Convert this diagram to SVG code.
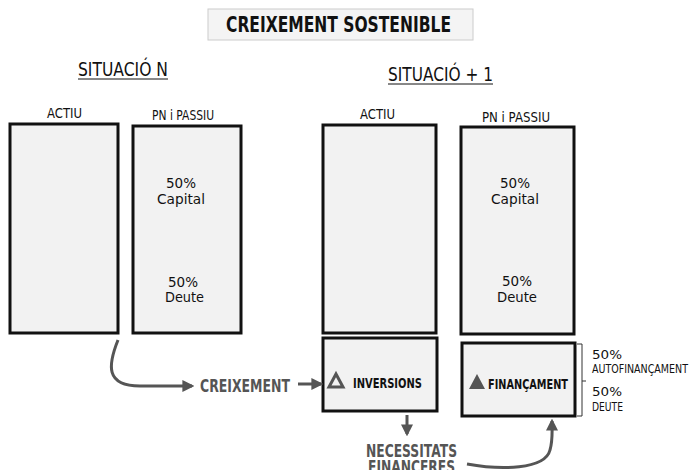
<svg xmlns="http://www.w3.org/2000/svg" width="696" height="470" viewBox="0 0 696 470">
<defs>
<style>
text{font-family:"DejaVu Sans","Liberation Sans",sans-serif}
.box{fill:#f2f2f2;stroke:#111;stroke-width:3}
.hd{font-size:19px;fill:#111}
.lbl{font-size:13.5px;fill:#111}
.pct{font-size:14.5px;fill:#111}
.bold{font-weight:bold}
.gray{fill:#555}
.conn{fill:none;stroke:#555;stroke-width:3}
.side{font-size:12.5px;fill:#111}
</style>
<marker id="ah" viewBox="0 0 10 10" refX="8" refY="5" markerWidth="4" markerHeight="4" orient="auto" markerUnits="strokeWidth">
<path d="M0,0 L10,5 L0,10 z" fill="#555"/>
</marker>
</defs>
<rect width="696" height="470" fill="#fff"/>
<g id="title">
<rect x="208" y="9" width="265" height="31" fill="#f4f4f4" stroke="#ccc" stroke-width="1"/>
<text x="226" y="32" font-size="21" font-weight="bold" fill="#111" textLength="225" lengthAdjust="spacingAndGlyphs">CREIXEMENT SOSTENIBLE</text>
</g>
<g id="sitN">
<text x="78" y="76" class="hd" textLength="90" lengthAdjust="spacingAndGlyphs">SITUACIÓ N</text>
<line x1="78" y1="79" x2="168" y2="79" stroke="#111" stroke-width="1"/>
</g>
<g id="sit1">
<text x="388" y="81" class="hd" textLength="105" lengthAdjust="spacingAndGlyphs">SITUACIÓ + 1</text>
<line x1="388" y1="84" x2="493" y2="84" stroke="#111" stroke-width="1"/>
</g>
<g id="actiuN">
<text x="47" y="118" class="lbl" textLength="35" lengthAdjust="spacingAndGlyphs">ACTIU</text>
<rect x="10" y="124" width="108" height="209" class="box"/>
</g>
<g id="passiuN">
<text x="152" y="120" class="lbl" textLength="62" lengthAdjust="spacingAndGlyphs">PN i PASSIU</text>
<rect x="133" y="126" width="108" height="207" class="box"/>
<text x="166" y="188" class="pct" textLength="30" lengthAdjust="spacingAndGlyphs">50%</text>
<text x="157" y="204" class="pct" textLength="48" lengthAdjust="spacingAndGlyphs">Capital</text>
<text x="168" y="287" class="pct" textLength="30" lengthAdjust="spacingAndGlyphs">50%</text>
<text x="165" y="302" class="pct" textLength="39" lengthAdjust="spacingAndGlyphs">Deute</text>
</g>
<g id="actiu1">
<text x="360" y="119" class="lbl" textLength="35" lengthAdjust="spacingAndGlyphs">ACTIU</text>
<rect x="323" y="125" width="113" height="208" class="box"/>
</g>
<g id="passiu1">
<text x="482" y="122" class="lbl" textLength="68" lengthAdjust="spacingAndGlyphs">PN i PASSIU</text>
<rect x="461" y="127" width="113" height="207" class="box"/>
<text x="500" y="188" class="pct" textLength="30" lengthAdjust="spacingAndGlyphs">50%</text>
<text x="491" y="204" class="pct" textLength="48" lengthAdjust="spacingAndGlyphs">Capital</text>
<text x="502" y="286" class="pct" textLength="30" lengthAdjust="spacingAndGlyphs">50%</text>
<text x="497" y="302" class="pct" textLength="40" lengthAdjust="spacingAndGlyphs">Deute</text>
</g>
<g id="inversions">
<rect x="323" y="338" width="114" height="73" class="box"/>
<polygon points="336,374 343,387 329,387" fill="none" stroke="#555" stroke-width="3"/>
<text x="353" y="388" font-size="14.5" class="bold" fill="#111" textLength="69" lengthAdjust="spacingAndGlyphs">INVERSIONS</text>
</g>
<g id="financament">
<rect x="462" y="343" width="113" height="73" class="box"/>
<polygon points="477,374 485,389 469,389" fill="#555"/>
<text x="488" y="389" font-size="14.5" class="bold" fill="#111" textLength="80" lengthAdjust="spacingAndGlyphs">FINANÇAMENT</text>
</g>
<g id="brace">
<path d="M577,344 H582 V416 H577 M582,381 H586" fill="none" stroke="#333" stroke-width="1"/>
<text x="592" y="359" class="side" textLength="30" lengthAdjust="spacingAndGlyphs">50%</text>
<text x="592" y="373" class="side" textLength="96" lengthAdjust="spacingAndGlyphs">AUTOFINANÇAMENT</text>
<text x="592" y="396" class="side" textLength="30" lengthAdjust="spacingAndGlyphs">50%</text>
<text x="592" y="411" class="side" textLength="31" lengthAdjust="spacingAndGlyphs">DEUTE</text>
</g>
<g id="creixement">
<text x="200" y="392" font-size="17.5" class="bold gray" textLength="90" lengthAdjust="spacingAndGlyphs">CREIXEMENT</text>
</g>
<g id="necessitats">
<text x="366" y="457" font-size="18" class="bold gray" textLength="91" lengthAdjust="spacingAndGlyphs">NECESSITATS</text>
<text x="368" y="473" font-size="18" class="bold gray" textLength="87" lengthAdjust="spacingAndGlyphs">FINANCERES</text>
</g>
<g id="connectors">
<path d="M118,340 C108,365 105,386 140,386 L192,386" class="conn" marker-end="url(#ah)"/>
<path d="M298,384 L321,384" class="conn" marker-end="url(#ah)"/>
<path d="M407,415 L407,434" class="conn" marker-end="url(#ah)"/>
<path d="M467,464 C500,470 545,470 550,450 C553,440 552,430 552,421" class="conn" marker-end="url(#ah)"/>
</g>
</svg>
